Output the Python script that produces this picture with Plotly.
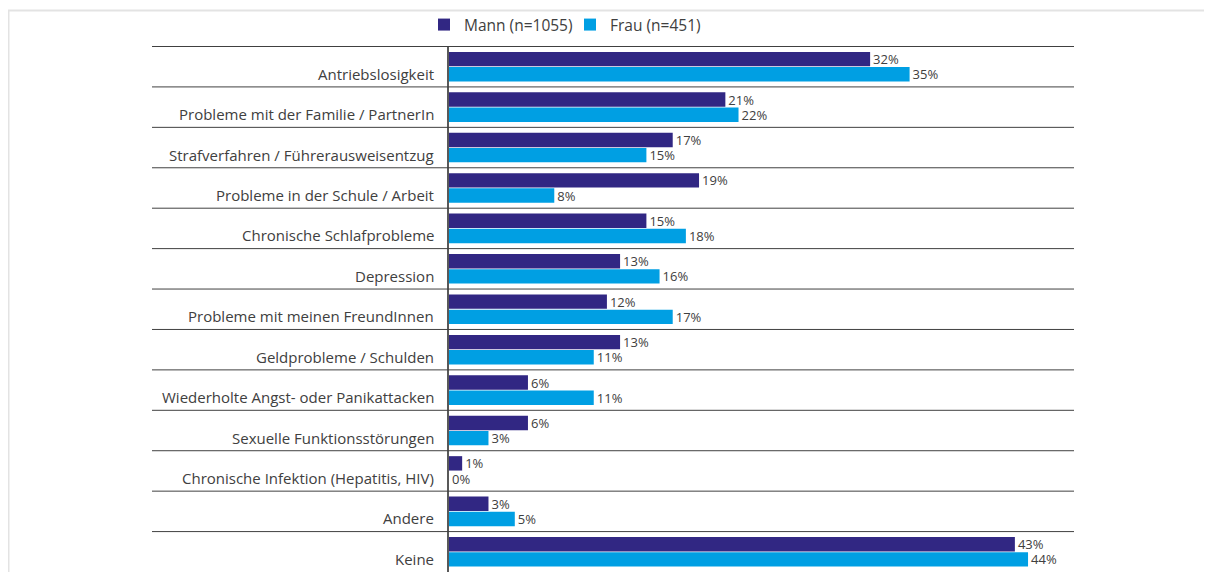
import plotly.graph_objects as go

categories = [
    "Antriebslosigkeit",
    "Probleme mit der Familie / PartnerIn",
    "Strafverfahren / Führerausweisentzug",
    "Probleme in der Schule / Arbeit",
    "Chronische Schlafprobleme",
    "Depression",
    "Probleme mit meinen FreundInnen",
    "Geldprobleme / Schulden",
    "Wiederholte Angst- oder Panikattacken",
    "Sexuelle Funktionsstörungen",
    "Chronische Infektion (Hepatitis, HIV)",
    "Andere",
    "Keine",
]
mann = [32, 21, 17, 19, 15, 13, 12, 13, 6, 6, 1, 3, 43]
frau = [35, 22, 15, 8, 18, 16, 17, 11, 11, 3, 0, 5, 44]
series_names = ["Mann (n=1055)", "Frau (n=451)"]
colors = ["#312783", "#009fe3"]

FONT = "Open Sans, Noto Sans, sans-serif"
TXT = "#404040"

fig = go.Figure()
for name, vals, col in zip(series_names, [mann, frau], colors):
    fig.add_trace(go.Bar(
        y=categories, x=vals, orientation="h", name=name,
        marker=dict(color=col, line=dict(width=0)),
        text=[f"{v}%" for v in vals], textposition="outside",
        textfont=dict(family=FONT, size=13, color=TXT),
        cliponaxis=False, constraintext="none", hoverinfo="skip",
    ))

# page body has an 8px margin: work in figure coordinates = page - 8
OFF = 8
W, H = 1212 - OFF, 572 - OFF
L = 449 - OFF
T = 46 - OFF
R = W - (1074 - OFF)
B = 0
pw = W - L - R
ph = H - T - B

shapes = []
for i in range(len(categories)):
    shapes.append(dict(type="line", xref="paper", yref="y",
                       x0=(152 - OFF - L) / pw, x1=1, y0=i - 0.5, y1=i - 0.5,
                       line=dict(color="#404040", width=1)))
# outer light frame
shapes.append(dict(type="rect", xref="paper", yref="paper",
                   x0=(0.5 - L) / pw, x1=(1400 - L) / pw,
                   y0=-0.3, y1=1 + (T - 2.5) / ph,
                   line=dict(color="#e3e3e3", width=2), layer="below"))

annotations = []
for c in categories:
    annotations.append(dict(x=0, y=c, xref="x", yref="y", text=c,
                            showarrow=False, xanchor="right", yanchor="middle",
                            xshift=-13, yshift=-7,
                            font=dict(family=FONT, size=15, color=TXT)))

fig.update_layout(
    width=W, height=H,
    margin=dict(l=L, r=R, t=T, b=B, pad=0),
    plot_bgcolor="white", paper_bgcolor="white",
    barmode="group", bargap=0.25, bargroupgap=0.05,
    showlegend=True,
    legend=dict(orientation="h", x=(424 - OFF - L) / pw, xanchor="left",
                y=1 + (T - (25 - OFF)) / ph, yanchor="middle",
                bgcolor="rgba(0,0,0,0)",
                font=dict(family=FONT, size=15.5, color=TXT),
                itemwidth=30, entrywidth=101, entrywidthmode="pixels",
                traceorder="normal"),
    xaxis=dict(range=[0, pw / 13.16], showgrid=False, zeroline=False,
               showticklabels=False, ticks="", fixedrange=True),
    yaxis=dict(autorange="reversed", showgrid=False, zeroline=False,
               showticklabels=False, ticks="", showline=True,
               linecolor="#595959", linewidth=1.5, fixedrange=True),
    shapes=shapes, annotations=annotations,
)

fig.write_html("out.html")
